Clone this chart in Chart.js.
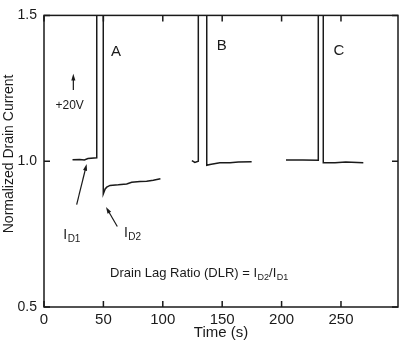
<!DOCTYPE html>
<html>
<head>
<meta charset="utf-8">
<script src="https://cdn.jsdelivr.net/npm/chart.js@4.4.0/dist/chart.umd.min.js"></script>
<style>
  body { margin: 0; background: #fff; }
  canvas { display: block; }
</style>
</head>
<body>
<canvas id="lagChart" width="401" height="345"></canvas>
<script>
// pulse A: baseline, +20V pulse (goes off scale), recovery
const timeA = [24, 30, 34, 37, 44.4, 44.4, 49.9, 49.9, 51.5, 52.8, 55.6, 62.5, 69.6, 73.8, 80.8, 86.4, 92, 98];
const currentA = [1.005, 1.006, 1.004, 1.009, 1.012, 1.6, 1.6, 0.888, 0.905, 0.911, 0.917, 0.919, 0.922, 0.928, 0.930, 0.931, 0.935, 0.940];
// pulse B
const timeB = [124.5, 127, 129.9, 129.9, 137, 137, 139.7, 148, 156.6, 163.6, 174.8];
const currentB = [1.002, 0.996, 1.0, 1.6, 1.6, 0.986, 0.989, 0.995, 0.995, 0.997, 0.998];
// pulse C
const timeC = [203.7, 218, 230.9, 230.9, 235.1, 235.1, 245, 254, 268.8];
const currentC = [1.004, 1.004, 1.003, 1.6, 1.6, 0.995, 0.995, 0.997, 0.995];

const xTicks = [0, 50, 100, 150, 200, 250];
const yTicks = [0.5, 1.0, 1.5];

const FONT = "'Liberation Sans', Arial, Helvetica, sans-serif";
const INK = '#1a1a1a';

const pts = (t, v) => t.map((x, i) => ({ x: x, y: v[i] }));
const trace = (t, v) => ({
    data: pts(t, v),
    showLine: true,
    borderColor: INK,
    borderWidth: 1.5,
    pointRadius: 0,
    tension: 0
});

function arrow(ctx, x0, y0, x1, y1) {
    const ang = Math.atan2(y1 - y0, x1 - x0);
    ctx.beginPath();
    ctx.moveTo(x0, y0);
    ctx.lineTo(x1 - 4 * Math.cos(ang), y1 - 4 * Math.sin(ang));
    ctx.stroke();
    ctx.beginPath();
    ctx.moveTo(x1, y1);
    ctx.lineTo(x1 - 7 * Math.cos(ang - 0.3), y1 - 7 * Math.sin(ang - 0.3));
    ctx.lineTo(x1 - 7 * Math.cos(ang + 0.3), y1 - 7 * Math.sin(ang + 0.3));
    ctx.closePath();
    ctx.fill();
}

// I with subscript, returns x after the text
function subI(ctx, px, py, sub, size) {
    ctx.font = size + 'px ' + FONT;
    ctx.fillText('I', px, py);
    px += ctx.measureText('I').width + 0.5;
    ctx.font = Math.round(size * 0.72) + 'px ' + FONT;
    ctx.fillText(sub, px, py + 3);
    return px + ctx.measureText(sub).width;
}

const framePlugin = {
    id: 'frame',
    afterDatasetsDraw(chart) {
        const { ctx, chartArea: a, scales: { x, y } } = chart;
        ctx.save();
        ctx.strokeStyle = INK;
        ctx.fillStyle = INK;
        ctx.lineWidth = 1.5;
        ctx.strokeRect(a.left, a.top, a.right - a.left, a.bottom - a.top);
        ctx.beginPath();
        xTicks.forEach(v => {
            const px = x.getPixelForValue(v);
            ctx.moveTo(px, a.bottom); ctx.lineTo(px, a.bottom - 6);
            ctx.moveTo(px, a.top); ctx.lineTo(px, a.top + 6);
        });
        yTicks.forEach(v => {
            const py = y.getPixelForValue(v);
            ctx.moveTo(a.left, py); ctx.lineTo(a.left + 6, py);
            ctx.moveTo(a.right, py); ctx.lineTo(a.right - 6, py);
        });
        ctx.stroke();

        const X = v => x.getPixelForValue(v);
        const Y = v => y.getPixelForValue(v);

        // y-axis title, rotated
        ctx.save();
        ctx.translate(9, Y(1.025));
        ctx.rotate(-Math.PI / 2);
        ctx.textAlign = 'center';
        ctx.textBaseline = 'middle';
        ctx.font = '14px ' + FONT;
        ctx.fillText('Normalized Drain Current', 0, 0);
        ctx.restore();

        ctx.textBaseline = 'alphabetic';
        ctx.textAlign = 'center';
        ctx.font = '15px ' + FONT;
        ctx.fillText('A', X(60.6), Y(1.360));
        ctx.fillText('B', X(149.6), Y(1.382));
        ctx.fillText('C', X(248.3), Y(1.365));
        ctx.font = '12px ' + FONT;
        ctx.fillText('+20V', X(21.6), Y(1.180));

        ctx.lineWidth = 1.2;
        arrow(ctx, X(24.7), Y(1.244), X(24.7), Y(1.300));
        arrow(ctx, X(27.5), Y(0.851), X(35.9), Y(0.990));
        arrow(ctx, X(61.7), Y(0.776), X(52.2), Y(0.843));

        ctx.textAlign = 'left';
        subI(ctx, X(16.2), Y(0.732), 'D1', 14);
        subI(ctx, X(67.3), Y(0.739), 'D2', 14);

        ctx.font = '13px ' + FONT;
        let px = X(55.6);
        const py = Y(0.604);
        const head = 'Drain Lag Ratio (DLR) = ';
        ctx.fillText(head, px, py);
        px += ctx.measureText(head).width;
        px = subI(ctx, px, py, 'D2', 13);
        ctx.font = '13px ' + FONT;
        ctx.fillText('/', px, py);
        px += ctx.measureText('/').width;
        subI(ctx, px, py, 'D1', 13);
        ctx.restore();
    }
};

new Chart(document.getElementById('lagChart'), {
    type: 'scatter',
    data: {
        datasets: [trace(timeA, currentA), trace(timeB, currentB), trace(timeC, currentC)]
    },
    options: {
        responsive: false,
        animation: false,
        layout: { padding: { top: 10, right: 3, left: 0, bottom: 0 } },
        plugins: { legend: { display: false }, tooltip: { enabled: false } },
        scales: {
            x: {
                type: 'linear',
                min: 0,
                max: 298,
                grid: { display: false, drawTicks: false },
                border: { display: false },
                afterBuildTicks: s => { s.ticks = xTicks.map(v => ({ value: v })); },
                afterFit: s => { s.height = 38; },
                ticks: { padding: 4, color: INK, font: { family: FONT, size: 15 } },
                title: {
                    display: true,
                    text: 'Time (s)',
                    color: INK,
                    font: { family: FONT, size: 15 },
                    padding: { top: 0, bottom: 3 }
                }
            },
            y: {
                min: 0.5,
                max: 1.5,
                grid: { display: false, drawTicks: false },
                border: { display: false },
                afterBuildTicks: s => { s.ticks = yTicks.map(v => ({ value: v })); },
                afterFit: s => { s.width = 44; },
                ticks: {
                    padding: 7,
                    color: INK,
                    font: { family: FONT, size: 14 },
                    callback: v => v.toFixed(1)
                }
            }
        }
    },
    plugins: [framePlugin]
});
</script>
</body>
</html>
